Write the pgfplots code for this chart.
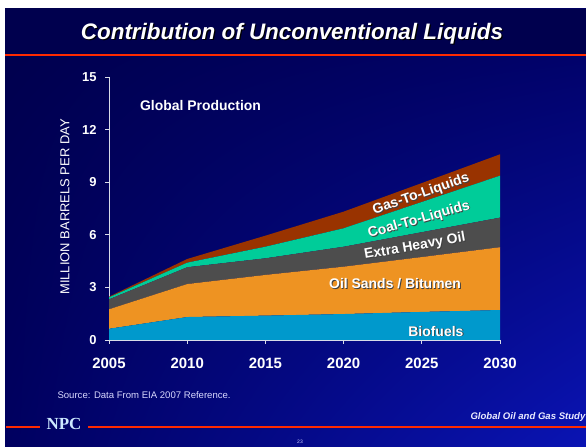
\documentclass[border=0pt]{standalone}
\usepackage{fontspec}
\setmainfont{Liberation Sans}
\newfontfamily\npcfont{Liberation Serif}
\usepackage{pgfplots}
\pgfplotsset{compat=1.18}
\usetikzlibrary{shadings}
\definecolor{bio}{HTML}{0099CC}
\definecolor{oilsand}{HTML}{EE9322}
\definecolor{eho}{HTML}{4D4D4D}
\definecolor{coal}{HTML}{00CC99}
\definecolor{gtl}{HTML}{993300}
\definecolor{titleband}{HTML}{00004E}
\definecolor{redline}{HTML}{FF2A00}
\definecolor{axisgray}{HTML}{D8DCE8}
\definecolor{npccol}{HTML}{CCE8FF}
\definecolor{bgUL}{HTML}{00004C}
\definecolor{bgUR}{HTML}{000062}
\definecolor{bgLL}{HTML}{000060}
\definecolor{bgLR}{HTML}{0A14B4}
\tikzset{lab/.style={font=\fontsize{14}{16}\selectfont\bfseries},
  shad/.style={text=black!75, xshift=0.9bp, yshift=-0.9bp}}
\begin{document}
\begin{tikzpicture}[x=1bp,y=1bp]
\path[use as bounding box] (0,0) rectangle (586,447);
\fill[white] (0,0) rectangle (586,447);
\shade[upper left=bgUL, upper right=bgUR, lower left=bgLL, lower right=bgLR] (5,0) rectangle (586,438);
\fill[titleband] (5,392) rectangle (586,438);
\draw[redline, line width=1.8bp] (5,392) -- (586,392);
% title
\node[text=black] at (293.2,411.8) {\fontsize{22.5}{26}\selectfont\bfseries\itshape Contribution of Unconventional Liquids};
\node[text=white] at (292,413) {\fontsize{22.5}{26}\selectfont\bfseries\itshape Contribution of Unconventional Liquids};
% y label
\node[rotate=90, text=white] at (65,240) {\fontsize{13}{15}\selectfont MILLION BARRELS PER DAY};
\begin{axis}[
  at={(109bp,107bp)}, anchor=south west,
  scale only axis, width=391bp, height=263bp,
  xmin=2005, xmax=2030, ymin=0, ymax=15,
  xtick={2005,2010,...,2030}, ytick={0,3,...,15},
  axis x line*=bottom, axis y line*=left,
  axis line style={draw=axisgray, line width=0.8bp},
  every tick/.style={draw=axisgray, line width=0.8bp},
  tick align=outside, major tick length=4bp,
  /pgf/number format/assume math mode=true,
  /pgf/number format/1000 sep={},
  xticklabel style={font=\fontsize{15}{18}\selectfont\bfseries, text=white, yshift=-11bp},
  yticklabel style={font=\fontsize{13}{15}\selectfont\bfseries, text=white, xshift=-5bp},
  stack plots=y,
  clip=false,
]
\addplot[fill=bio, draw=none] coordinates {(2005,0.64) (2010,1.31) (2015,1.39) (2020,1.48) (2025,1.60) (2030,1.71)} \closedcycle;
\addplot[fill=oilsand, draw=none] coordinates {(2005,1.11) (2010,1.88) (2015,2.32) (2020,2.70) (2025,3.13) (2030,3.58)} \closedcycle;
\addplot[fill=eho, draw=none] coordinates {(2005,0.57) (2010,0.96) (2015,0.95) (2020,1.14) (2025,1.42) (2030,1.69)} \closedcycle;
\addplot[fill=coal, draw=none] coordinates {(2005,0.11) (2010,0.26) (2015,0.66) (2020,1.05) (2025,1.72) (2030,2.39)} \closedcycle;
\addplot[fill=gtl, draw=none] coordinates {(2005,0.04) (2010,0.21) (2015,0.63) (2020,0.95) (2025,1.08) (2030,1.22)} \closedcycle;
\coordinate (gp) at (axis cs:2010.85,13.37);
\coordinate (gtlL) at (axis cs:2024.95,8.3);
\coordinate (ctlL) at (axis cs:2024.82,6.85);
\coordinate (ehoL) at (axis cs:2024.56,5.33);
\coordinate (osL) at (axis cs:2023.29,3.19);
\coordinate (bioL) at (axis cs:2025.9,0.51);
\end{axis}
\node[text=white] at (gp) {\fontsize{14}{16}\selectfont\bfseries Global Production};
\node[lab, shad, rotate=19] at (gtlL) {Gas-To-Liquids};
\node[lab, text=white, rotate=19] at (gtlL) {Gas-To-Liquids};
\node[lab, shad, rotate=16] at (ctlL) {Coal-To-Liquids};
\node[lab, text=white, rotate=16] at (ctlL) {Coal-To-Liquids};
\node[lab, shad, rotate=10] at (ehoL) {Extra Heavy Oil};
\node[lab, text=white, rotate=10] at (ehoL) {Extra Heavy Oil};
\node[lab, shad] at (osL) {Oil Sands / Bitumen};
\node[lab, text=white] at (osL) {Oil Sands / Bitumen};
\node[lab, shad] at (bioL) {Biofuels};
\node[lab, text=white] at (bioL) {Biofuels};
% footer
\node[anchor=west, text=white!85!blue] at (54,52) {\fontsize{9.6}{11}\selectfont Source: Data From EIA 2007 Reference.};
\node[anchor=west, text=white!92!blue] at (467,30) {\fontsize{9.6}{12}\selectfont\bfseries\itshape Global Oil and Gas Study};
\draw[redline, line width=1.8bp] (6,20) -- (40,20);
\draw[redline, line width=1.8bp] (88,20) -- (586,20);
\node[text=npccol] at (64,23) {\fontsize{17}{20}\selectfont\npcfont\bfseries NPC};
\node[text=white!80!blue] at (300,5) {\fontsize{5}{6}\selectfont 23};
\end{tikzpicture}
\end{document}
